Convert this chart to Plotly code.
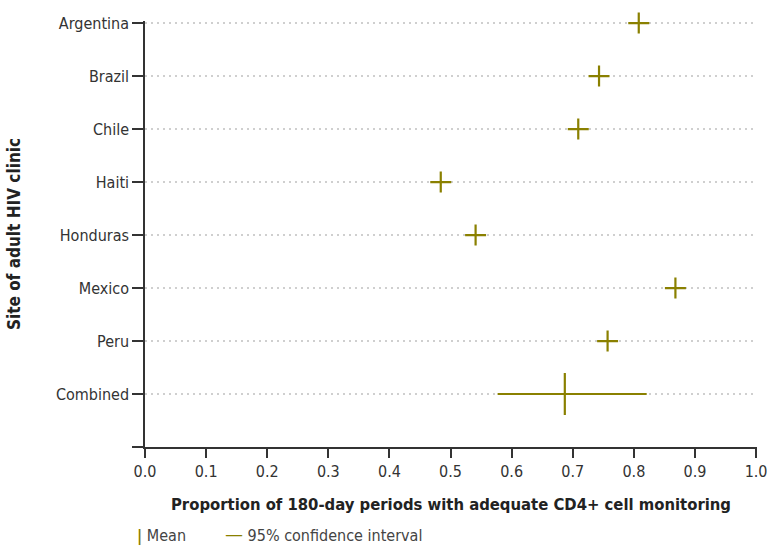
import plotly.graph_objects as go

sites = ["Argentina", "Brazil", "Chile", "Haiti", "Honduras", "Mexico", "Peru"]
site_means = [0.808, 0.743, 0.709, 0.484, 0.541, 0.868, 0.757]
combined_label = "Combined"
combined_mean = 0.687
combined_ci_low = 0.577
combined_ci_high = 0.821

x_ticks = [0.0, 0.1, 0.2, 0.3, 0.4, 0.5, 0.6, 0.7, 0.8, 0.9, 1.0]
legend_labels = ["Mean", "95% confidence interval"]

OLIVE = "#8a8000"
FONT = "Liberation Sans Narrow, DejaVu Sans Condensed, Arial Narrow, sans-serif"

labels = sites + [combined_label]
n = len(labels)
ypos = {lab: n - i for i, lab in enumerate(labels)}  # Argentina top

fig = go.Figure()

fig.add_trace(go.Scatter(
    x=site_means, y=[ypos[s] for s in sites], mode="markers",
    marker=dict(symbol="cross-thin", size=15, line=dict(width=2.2, color=OLIVE), color=OLIVE),
    showlegend=False, cliponaxis=False, hoverinfo="skip"))

fig.add_trace(go.Scatter(
    x=[combined_mean], y=[ypos[combined_label]], mode="markers",
    marker=dict(symbol="line-ns", size=30, line=dict(width=2.2, color=OLIVE), color=OLIVE),
    error_x=dict(type="data", symmetric=False,
                 array=[combined_ci_high - combined_mean],
                 arrayminus=[combined_mean - combined_ci_low],
                 width=0, thickness=2.2, color=OLIVE),
    showlegend=False, cliponaxis=False, hoverinfo="skip"))

tickvals_y = [0] + [ypos[l] for l in labels]
ticktext_y = [""] + labels

annotations = [
    dict(text=f"<span style='color:{OLIVE}'><b>|</b></span> {legend_labels[0]}",
         xref="paper", yref="paper", x=-0.0163, y=-0.21, xanchor="left", yanchor="middle",
         showarrow=False, font=dict(size=16, color="#444444")),
    dict(text=f"<span style='color:{OLIVE};font-size:20px'>—</span> {legend_labels[1]}",
         xref="paper", yref="paper", x=0.127, y=-0.205, xanchor="left", yanchor="middle",
         showarrow=False, font=dict(size=16, color="#444444")),
]

fig.update_layout(
    width=767, height=548,
    margin=dict(l=145, r=10, t=21, b=101),
    paper_bgcolor="white", plot_bgcolor="white",
    font=dict(family=FONT, size=16, color="#333333"),
    showlegend=False,
    annotations=annotations,
    xaxis=dict(range=[0, 1.0015], tickvals=x_ticks, ticktext=[f"{v:.1f}" for v in x_ticks],
               automargin=False, ticklabeloverflow="allow",
               showgrid=False, zeroline=False, showline=True, linecolor="#333333", linewidth=1.5,
               ticks="outside", ticklen=9, tickwidth=1.5, tickcolor="#333333",
               title=dict(text="<b>Proportion of 180-day periods with adequate CD4+ cell monitoring</b>",
                          font=dict(size=16.5, color="#222222"), standoff=18)),
    yaxis=dict(range=[0, n + 0.04], tickvals=tickvals_y, ticktext=ticktext_y,
               automargin=False, ticklabeloverflow="allow",
               showgrid=True, gridcolor="#cfcfcf", gridwidth=2, griddash="2px,4px",
               zeroline=False, showline=True, linecolor="#333333", linewidth=1.5,
               ticks="outside", ticklen=11, tickwidth=1.5, tickcolor="#333333",
               title=dict(text="<b>Site of adult HIV clinic</b>",
                          font=dict(size=17, color="#222222"), standoff=31)),
)

fig.write_html("out.html", config={"displayModeBar": False},
               post_script="document.body.style.margin='0';document.body.style.padding='0';")
